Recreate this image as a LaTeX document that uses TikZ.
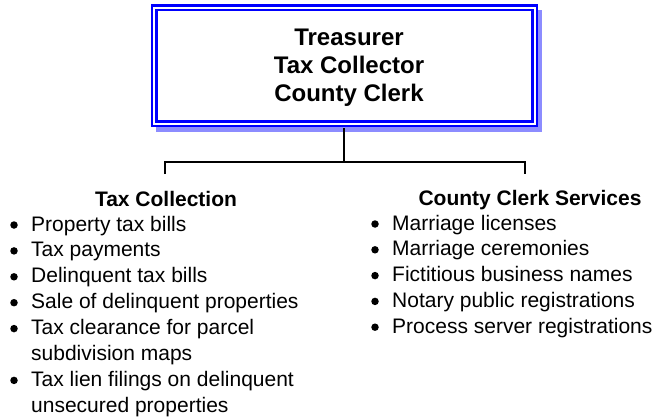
\documentclass[tikz,border=0pt]{standalone}
\usepackage{fontspec}
\setmainfont{Liberation Sans}
\definecolor{boxblue}{RGB}{0,0,255}
\definecolor{shadowblue}{RGB}{140,140,255}
\tikzset{
  topbox/.style={draw=boxblue, line width=2.5pt, double=white, double distance=2pt, fill=white,
    minimum width=380.5pt, minimum height=115.5pt, inner sep=0pt},
  conn/.style={draw=black, line width=2pt},
  ttl/.style={font=\fontsize{24}{28}\selectfont\bfseries, anchor=base, inner sep=0pt},
  hdr/.style={font=\fontsize{21}{26}\selectfont\bfseries, anchor=base, inner sep=0pt},
  itm/.style={font=\fontsize{21}{26}\selectfont, anchor=base west, inner sep=0pt},
  bul/.style={fill=black, circle, minimum size=7.5pt, inner sep=0pt},
}
\begin{document}
\begin{tikzpicture}[x=1pt,y=-1pt]
\useasboundingbox (0,0) rectangle (655,417);
% shadow
\fill[shadowblue] (156,10) rectangle (542,132);
% top box
\node[topbox] (top) at (344.25,65.75) {};
\node[ttl] (t1) at (349,46) {Treasurer};
\node[ttl] (t2) at (349,74) {Tax Collector};
\node[ttl] (t3) at (349,102) {County Clerk};
% connectors
\coordinate (mid) at (344.25,162);
\coordinate (jl) at (165,162);
\coordinate (jr) at (525,162);
\coordinate (dl) at (165,174);
\coordinate (dr) at (525,174);
\draw[conn] ([yshift=-3.5pt]top.south) -- (mid);
\draw[conn] (dl) -- (jl) -- (jr) -- (dr);
% left column
\node[hdr] (hl) at (166,206.5) {Tax Collection};
\node[itm] (l1) at (31,231) {Property tax bills};
\node[itm] (l2) at (31,256.9) {Tax payments};
\node[itm] (l3) at (31,282.8) {Delinquent tax bills};
\node[itm] (l4) at (31,308.7) {Sale of delinquent properties};
\node[itm] (l5) at (31,334.6) {Tax clearance for parcel};
\node[itm] (l5b) at (31,360.5) {subdivision maps};
\node[itm] (l6) at (31,386.4) {Tax lien filings on delinquent};
\node[itm] (l6b) at (31,412.3) {unsecured properties};
\node[bul] (b1) at (14,225) {};
\node[bul] (b2) at (14,250.9) {};
\node[bul] (b3) at (14,276.8) {};
\node[bul] (b4) at (14,302.7) {};
\node[bul] (b5) at (14,328.6) {};
\node[bul] (b6) at (14,380.4) {};
% right column
\node[hdr] (hr) at (530,205.5) {County Clerk Services};
\node[itm] (r1) at (392,230) {Marriage licenses};
\node[itm] (r2) at (392,255.8) {Marriage ceremonies};
\node[itm] (r3) at (392,281.6) {Fictitious business names};
\node[itm] (r4) at (392,307.4) {Notary public registrations};
\node[itm] (r5) at (392,333.2) {Process server registrations};
\node[bul] (c1) at (375,224) {};
\node[bul] (c2) at (375,249.8) {};
\node[bul] (c3) at (375,275.6) {};
\node[bul] (c4) at (375,301.4) {};
\node[bul] (c5) at (375,327.2) {};
\end{tikzpicture}
\end{document}
